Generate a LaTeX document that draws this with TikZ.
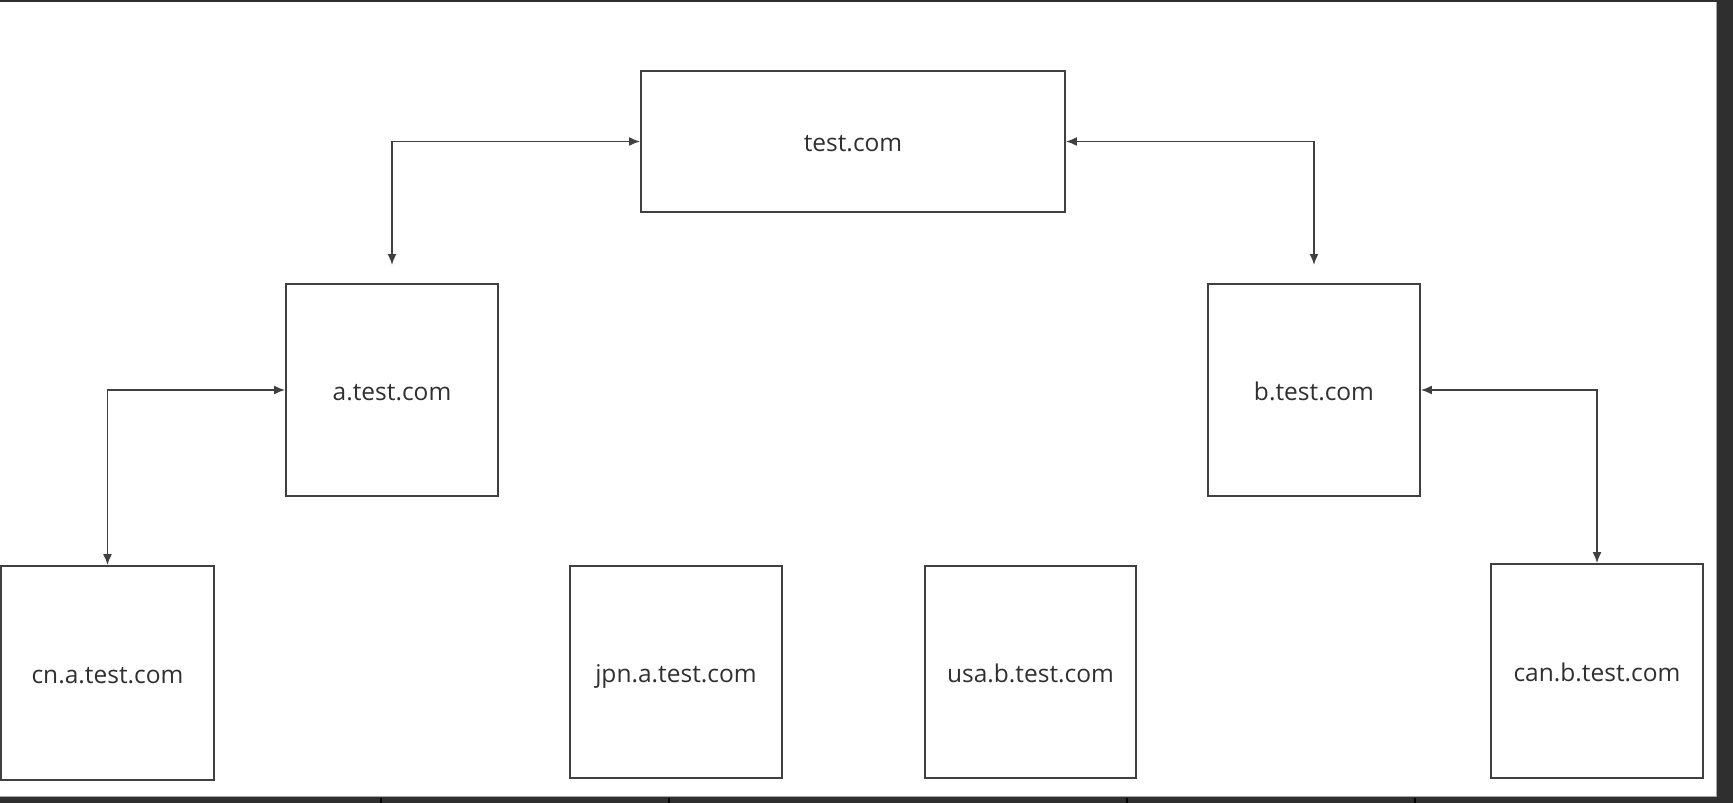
\documentclass[tikz,border=0pt]{standalone}
\usepackage{fontspec}
\setmainfont{Open Sans}
\usetikzlibrary{arrows.meta}
\definecolor{linec}{HTML}{404040}
\definecolor{textc}{HTML}{303030}
\definecolor{darkc}{HTML}{2F2F2F}
\begin{document}
\begin{tikzpicture}[x=1pt,y=-1pt,
  box/.style={draw=linec,line width=1.8pt,rectangle,inner sep=0pt,text=textc,
    text height=20pt,text depth=0pt,
    font=\fontsize{24.5}{28}\selectfont},
  link/.style={draw=linec,line width=1.7pt,{Latex[length=11pt,width=9pt]}-{Latex[length=11pt,width=9pt]}}]
\useasboundingbox (0,0) rectangle (1733,803);
\fill[white] (0,0) rectangle (1733,803);
% frame strips
\fill[darkc] (0,0) rectangle (1733,1.6);
\fill[darkc] (1717,0) rectangle (1733,803);
\fill[darkc] (0,797) rectangle (1733,803);
\draw[gray!70,line width=0.8pt] (1716.5,1.6) -- (1716.5,797);
\draw[gray!70,line width=0.8pt] (0,796.8) -- (1716.5,796.8);
\foreach \xx in {381,669,1127,1415} \draw[black,line width=1.2pt] (\xx,797.5) -- (\xx,803);
% nodes
\node[box,minimum width=424pt,minimum height=141pt] (top) at (853,141.5) {test.com};
\node[box,minimum width=212pt,minimum height=212pt] (a) at (392,390) {a.test.com};
\node[box,minimum width=212pt,minimum height=212pt] (b) at (1314,390) {b.test.com};
\node[box,minimum width=213pt,minimum height=214pt] (cn) at (107.5,673) {cn.a.test.com};
\node[box,minimum width=212pt,minimum height=212pt] (jpn) at (676,672) {jpn.a.test.com};
\node[box,minimum width=211pt,minimum height=212pt] (usa) at (1030.5,672) {usa.b.test.com};
\node[box,minimum width=212pt,minimum height=214pt] (can) at (1597,671) {can.b.test.com};
% free arrow ends
\coordinate (atip) at (392,265);
\coordinate (btip) at (1314,265);
% connectors
\draw[link] (top.west) -| (atip);
\draw[link] (top.east) -| (btip);
\draw[link] (a.west) -| (cn.north);
\draw[link] (b.east) -| (can.north);
\end{tikzpicture}
\end{document}
